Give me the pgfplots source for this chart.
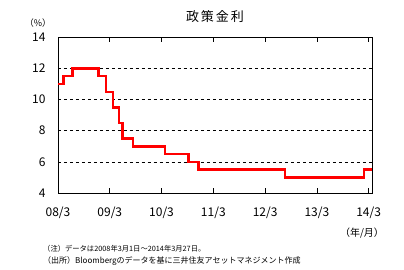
\documentclass[border=0pt]{standalone}
\usepackage{pgfplots}
\pgfplotsset{compat=1.18}
\usepackage{fontspec}
\setmainfont{Noto Sans CJK JP}
\begin{document}
\begin{tikzpicture}
\useasboundingbox (0,0) rectangle (404bp,270bp);
\begin{axis}[at={(58bp,77bp)}, anchor=south west, scale only axis,
  width=314.3bp, height=155.7bp,
  xmin=0, xmax=72.84, ymin=4, ymax=14,
  xtick={0,12,24,36,48,60,72},
  xticklabels={08/3,09/3,10/3,11/3,12/3,13/3,14/3},
  ytick={4,6,8,10,12,14},
  tick align=inside,
  major tick length=5bp,
  xtick style={black, line width=0.6bp},
  ytick style={draw=none},
  ymajorgrids, grid style={dashed, black, line width=0.6bp},
  axis line style={line width=0.8bp},
  tick label style={font=\fontsize{12bp}{14bp}\selectfont},
  /pgf/number format/assume math mode=true,
  yticklabel style={xshift=-9bp},
  xticklabel style={yshift=-10bp},
]
\addplot[const plot, red, line width=2.5bp] coordinates {
(0,11) (1.33,11.5) (3.4,12) (9.35,11.5) (11.18,10.5) (12.77,9.5) (14.1,8.5)
(14.9,7.5) (17.42,7) (24.8,6.5) (30.3,6) (32.6,5.5) (52.6,5) (70.94,5.5) (72.84,5.5)};
\end{axis}
\node[font=\fontsize{13bp}{15bp}\selectfont] at (215bp,253bp) {政\hspace{2bp}策\hspace{2bp}金\hspace{2bp}利};
\node[font=\fontsize{9bp}{11bp}\selectfont] at (38bp,247bp) {（\%）};
\node[font=\fontsize{10bp}{12bp}\selectfont] at (362bp,37bp) {（年/月）};
\node[anchor=west, inner sep=0pt, font=\fontsize{7.3bp}{9bp}\selectfont] at (43bp,21bp) {（注）データは2008年3月1日～2014年3月27日。};
\node[anchor=west, inner sep=0pt, font=\fontsize{8bp}{9bp}\selectfont] at (43bp,9bp) {（出所）Bloombergのデータを基に三井住友アセットマネジメント作成};
\end{tikzpicture}
\end{document}
